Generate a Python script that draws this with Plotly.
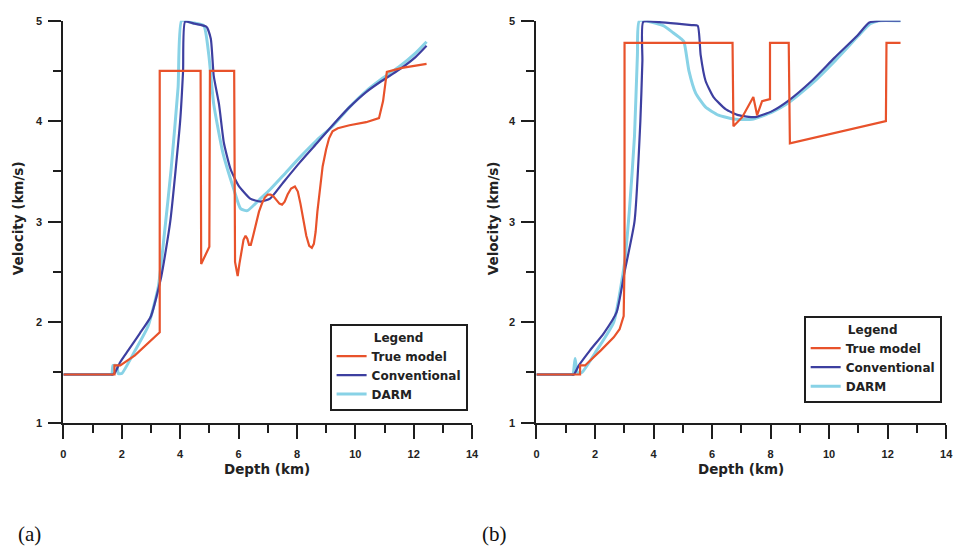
import plotly.graph_objects as go

# ---------------- panel (a) ----------------
a_true_x = [0, 1.75, 1.75, 1.95, 2.45, 2.9, 3.3, 3.3, 4.7, 4.72, 5.0, 5.02, 5.85, 5.88, 5.97,
            6.03, 6.1, 6.17, 6.24, 6.3, 6.36, 6.42, 6.5, 6.6, 6.7, 6.8, 6.9, 7.0, 7.1, 7.2,
            7.3, 7.4, 7.49, 7.58, 7.68, 7.8, 7.93, 8.03, 8.12, 8.22, 8.32, 8.42, 8.51, 8.58,
            8.64, 8.7, 8.78, 8.88, 9.0, 9.1, 9.22, 9.4, 9.8, 10.37, 10.81, 10.95, 11.08,
            11.6, 12.44]
a_true_y = [1.48, 1.48, 1.57, 1.57, 1.67, 1.79, 1.9, 4.5, 4.5, 2.58, 2.75, 4.5, 4.5, 2.6, 2.46,
            2.58, 2.72, 2.82, 2.86, 2.83, 2.77, 2.77, 2.86, 2.99, 3.1, 3.18, 3.24, 3.27, 3.27, 3.25,
            3.21, 3.18, 3.17, 3.2, 3.27, 3.33, 3.35, 3.3, 3.18, 3.02, 2.86, 2.76, 2.74, 2.78,
            2.9, 3.1, 3.33, 3.55, 3.72, 3.83, 3.9, 3.93, 3.96, 3.99, 4.03, 4.2, 4.49,
            4.53, 4.57]

a_conv_x = [0, 1.0, 1.6, 1.7, 1.77, 1.94, 2.22, 2.62, 3.0, 3.35, 3.66, 4.0, 4.1, 4.17, 4.5, 4.9,
            5.05, 5.15, 5.33, 5.5, 5.73, 6.0, 6.4, 6.75, 7.08, 7.53, 8.1, 8.68, 9.22, 9.8,
            10.37, 10.9, 11.49, 12.07, 12.44]
a_conv_y = [1.48, 1.48, 1.48, 1.48, 1.5, 1.6, 1.72, 1.89, 2.06, 2.45, 3.0, 4.0, 4.5, 4.99, 4.97, 4.94,
            4.82, 4.45, 4.17, 3.78, 3.52, 3.36, 3.23, 3.2, 3.23, 3.39, 3.59, 3.78, 3.96, 4.14,
            4.29, 4.4, 4.51, 4.64, 4.75]

a_darm_x = [0, 1.0, 1.6, 1.66, 1.7, 1.83, 1.88, 2.0, 2.44, 2.9, 3.25, 3.46, 3.69, 3.93, 4.05, 4.4,
            4.81, 4.98, 5.15, 5.46, 5.83, 6.07, 6.3, 6.75, 7.08, 7.53, 8.1, 8.68, 9.22, 9.8,
            10.37, 10.9, 11.49, 12.07, 12.44]
a_darm_y = [1.48, 1.48, 1.48, 1.48, 1.57, 1.57, 1.49, 1.49, 1.71, 1.96, 2.35, 2.88, 3.52, 4.34, 5.0,
            4.98, 4.95, 4.66, 4.17, 3.69, 3.33, 3.13, 3.11, 3.23, 3.32, 3.46, 3.64, 3.81, 3.95,
            4.14, 4.3, 4.42, 4.54, 4.68, 4.79]

# ---------------- panel (b) ----------------
b_true_x = [0, 1.49, 1.49, 1.66, 2.2, 2.64, 2.84, 2.98, 3.01, 3.01, 6.7, 6.73, 7.03, 7.41, 7.54,
            7.71, 7.98, 7.98, 8.62, 8.66, 11.94, 11.96, 12.44]
b_true_y = [1.48, 1.48, 1.57, 1.57, 1.72, 1.85, 1.93, 2.06, 2.6, 4.78, 4.78, 3.95, 4.04, 4.24, 4.06,
            4.2, 4.22, 4.78, 4.78, 3.78, 4.0, 4.78, 4.78]

b_conv_x = [0, 0.8, 1.2, 1.28, 1.45, 1.83, 2.3, 2.74, 3.01, 3.35, 3.55, 3.62, 3.65, 4.2, 4.8,
            5.3, 5.51, 5.61, 5.78, 6.05, 6.46, 6.9, 7.47, 8.05, 8.59, 9.4, 10.18, 10.96,
            11.36, 11.77, 12.44]
b_conv_y = [1.48, 1.48, 1.48, 1.48, 1.57, 1.72, 1.89, 2.1, 2.5, 3.0, 4.0, 4.6, 4.99, 4.985, 4.97,
            4.955, 4.95, 4.66, 4.4, 4.24, 4.12, 4.06, 4.04, 4.1, 4.2, 4.4, 4.63, 4.85,
            4.98, 5.0, 5.0]

b_darm_x = [0, 0.8, 1.2, 1.25, 1.32, 1.4, 1.55, 2.06, 2.64, 3.01, 3.18, 3.35, 3.45, 3.52, 4.33,
            4.67, 4.94, 5.04, 5.21, 5.44, 5.78, 6.22, 6.8, 7.37, 8.05, 8.6, 9.4, 10.2, 11.0,
            11.4, 11.7, 12.44]
b_darm_y = [1.48, 1.48, 1.48, 1.48, 1.64, 1.5, 1.5, 1.72, 2.0, 2.59, 3.13, 3.85, 4.66, 5.0, 4.95,
            4.88, 4.82, 4.79, 4.5, 4.28, 4.14, 4.06, 4.02, 4.02, 4.09, 4.18, 4.37, 4.6, 4.85,
            4.97, 5.0, 5.0]

series_names = ["True model", "Conventional", "DARM"]
RED, BLUE, CYAN = "#E8522B", "#3D3FA0", "#88D2E6"

SANS = "DejaVu Sans"
AXIS_COLOR = "#1E1E1E"

fig = go.Figure()


def add_panel(xa, ya, legend, tx, ty, cx, cy, dx, dy):
    # drawn bottom-up: DARM underneath, then Conventional, then the true model on top
    fig.add_trace(go.Scatter(x=dx, y=dy, mode="lines", name=series_names[2],
                             line=dict(color=CYAN, width=3, shape="spline", smoothing=0.5),
                             xaxis=xa, yaxis=ya, legend=legend))
    fig.add_trace(go.Scatter(x=cx, y=cy, mode="lines", name=series_names[1],
                             line=dict(color=BLUE, width=2.2, shape="spline", smoothing=0.5),
                             xaxis=xa, yaxis=ya, legend=legend))
    fig.add_trace(go.Scatter(x=tx, y=ty, mode="lines", name=series_names[0],
                             line=dict(color=RED, width=2.2), xaxis=xa, yaxis=ya, legend=legend))


add_panel("x", "y", "legend", a_true_x, a_true_y, a_conv_x, a_conv_y, a_darm_x, a_darm_y)
add_panel("x2", "y2", "legend2", b_true_x, b_true_y, b_conv_x, b_conv_y, b_darm_x, b_darm_y)

W, H = 971, 552
tickfont = dict(family="Liberation Sans", size=11, color="#222", weight="bold")


def xaxis_style(x0, x1, anchor):
    return dict(domain=[x0 / W, x1 / W], range=[0, 14], dtick=2, tick0=0, anchor=anchor,
                ticks="outside", ticklen=14, tickwidth=2, tickcolor=AXIS_COLOR,
                ticklabelstandoff=6,
                showline=True, linewidth=2, linecolor=AXIS_COLOR,
                showgrid=False, zeroline=False, tickfont=tickfont,
                minor=dict(dtick=1, ticks="outside", ticklen=8, tickwidth=2, tickcolor=AXIS_COLOR,
                           showgrid=False))


def yaxis_style(anchor):
    return dict(domain=[(H - 426) / H, (H - 15) / H], range=[1, 5], dtick=1, tick0=1, anchor=anchor,
                ticks="outside", ticklen=13, tickwidth=2, tickcolor=AXIS_COLOR,
                ticklabelstandoff=4,
                showline=True, linewidth=2, linecolor=AXIS_COLOR,
                showgrid=False, zeroline=False, tickfont=tickfont,
                minor=dict(dtick=0.5, ticks="outside", ticklen=8, tickwidth=2, tickcolor=AXIS_COLOR,
                           showgrid=False))


legend_common = dict(
    bgcolor="white", bordercolor=AXIS_COLOR, borderwidth=2,
    font=dict(family=SANS, size=12, color="#222", weight="bold"),
    title=dict(text="Legend", side="top center",
               font=dict(family=SANS, size=12, color="#222", weight="bold")),
    traceorder="reversed", tracegroupgap=0, itemwidth=30,
    xanchor="left", yanchor="top",
)

title_font = dict(family=SANS, size=13.5, color="#222", weight="bold")

fig.update_layout(
    width=W, height=H,
    margin=dict(l=0, r=0, t=0, b=0),
    paper_bgcolor="white", plot_bgcolor="white",
    showlegend=True,
    xaxis=xaxis_style(61, 474, "y"),
    yaxis=yaxis_style("x"),
    xaxis2=xaxis_style(539, 953, "y2"),
    yaxis2=yaxis_style("x2"),
    legend=dict(legend_common, x=330 / W, y=(H - 325) / H),
    legend2=dict(legend_common, x=809 / W, y=(H - 317) / H),
    annotations=[
        dict(text="Velocity (km/s)", x=15 / W, y=(H - 217) / H, xref="paper", yref="paper",
             textangle=-90, showarrow=False, font=title_font, xanchor="center", yanchor="middle"),
        dict(text="Velocity (km/s)", x=495 / W, y=(H - 217) / H, xref="paper", yref="paper",
             textangle=-90, showarrow=False, font=title_font, xanchor="center", yanchor="middle"),
        dict(text="Depth (km)", x=267 / W, y=(H - 473) / H, xref="paper", yref="paper",
             showarrow=False, font=title_font, xanchor="center", yanchor="middle"),
        dict(text="Depth (km)", x=746 / W, y=(H - 473) / H, xref="paper", yref="paper",
             showarrow=False, font=title_font, xanchor="center", yanchor="middle"),
        dict(text="(a)", x=27 / W, y=(H - 540) / H, xref="paper", yref="paper",
             showarrow=False, font=dict(family="Liberation Serif", size=21, color="#111"),
             xanchor="center", yanchor="middle"),
        dict(text="(b)", x=497 / W, y=(H - 540) / H, xref="paper", yref="paper",
             showarrow=False, font=dict(family="Liberation Serif", size=21, color="#111"),
             xanchor="center", yanchor="middle"),
    ],
)

fig.write_html("out.html")
